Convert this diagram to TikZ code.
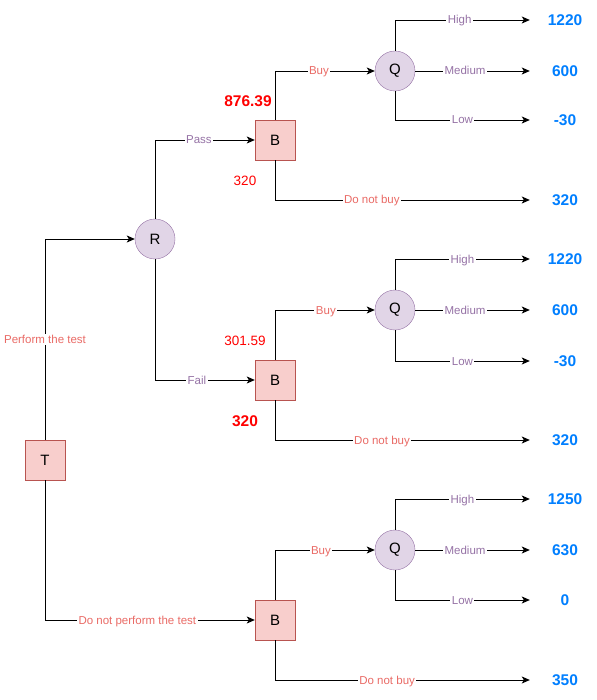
\documentclass[tikz,border=0pt]{standalone}
\usepackage{fontspec}
\setmainfont{Liberation Sans}
\usetikzlibrary{arrows.meta}
\definecolor{boxfill}{HTML}{F8CECC}
\definecolor{boxline}{HTML}{B85450}
\definecolor{circfill}{HTML}{E1D5E7}
\definecolor{circline}{HTML}{9673A6}
\definecolor{redlab}{HTML}{EA6B66}
\definecolor{purplab}{HTML}{9673A6}
\definecolor{bluev}{HTML}{007FFF}
\definecolor{redv}{HTML}{FF0000}
\tikzset{
  decbox/.style={draw=boxline, fill=boxfill, minimum size=40pt, inner sep=0pt, font=\fontsize{15}{17}\selectfont},
  chance/.style={circle, draw=circline, fill=circfill, minimum size=40pt, inner sep=0pt, font=\fontsize{15}{17}\selectfont},
  edge/.style={draw=black, line width=0.9pt, -{Stealth[length=8pt,width=7pt,inset=2pt]}},
  elab/.style={fill=white, inner xsep=1.5pt, inner ysep=1pt, anchor=base, yshift=-4pt, font=\fontsize{11.5}{13}\selectfont},
  rlab/.style={elab, text=redlab},
  plab/.style={elab, text=purplab},
  val/.style={minimum width=70pt, inner sep=0pt, align=center, text=bluev, font=\bfseries\fontsize{15.5}{17}\selectfont},
  evb/.style={text=redv, font=\bfseries\fontsize{15.5}{17}\selectfont},
  evn/.style={text=redv, font=\fontsize{13.5}{15}\selectfont},
}
\begin{document}
\begin{tikzpicture}[x=1pt,y=-1pt]
\useasboundingbox[fill=white] (0,0) rectangle (596,700);
% nodes
\node[decbox] (T) at (45,460) {T};
\node[chance] (R) at (155,239) {R};
\node[decbox] (B1) at (275,140) {B};
\node[decbox] (B2) at (275,380) {B};
\node[decbox] (B3) at (275,620) {B};
\node[chance] (Q1) at (395,71) {Q};
\node[chance] (Q2) at (395,310) {Q};
\node[chance] (Q3) at (395,550) {Q};
% values
\node[val] (V1) at (565,20) {1220};
\node[val] (V2) at (565,71) {600};
\node[val] (V3) at (565,120) {-30};
\node[val] (V4) at (565,200) {320};
\node[val] (V5) at (565,259) {1220};
\node[val] (V6) at (565,310) {600};
\node[val] (V7) at (565,361) {-30};
\node[val] (V8) at (565,440) {320};
\node[val] (V9) at (565,499) {1250};
\node[val] (V10) at (565,550) {630};
\node[val] (V11) at (565,600) {0};
\node[val] (V12) at (565,680) {350};
% expected values
\node[evb] (E1) at (248,101) {876.39};
\node[evn] (E2) at (245,181) {320};
\node[evn] (E3) at (245,341) {301.59};
\node[evb] (E4) at (245,421) {320};
% connectors
\draw[edge] (T.north) |- node[rlab, pos=0.25] {Perform the test} (R.west);
\draw[edge] (T.south) |- node[rlab, pos=0.72] {Do not perform the test} (B3.west);
\draw[edge] (R.north) |- node[plab, pos=0.72] {Pass} (B1.west);
\draw[edge] (R.south) |- node[plab, pos=0.71] {Fail} (B2.west);
% B1
\draw[edge] (B1.north) |- node[rlab, pos=0.72] {Buy} (Q1.west);
\draw[edge] (B1.south) |- node[rlab, pos=0.69] {Do not buy} (V4.west);
\draw[edge] (Q1.north) |- node[plab, pos=0.74] {High} (V1.west);
\draw[edge] (Q1.east) -- node[plab, pos=0.435] {Medium} (V2.west);
\draw[edge] (Q1.south) |- node[plab, pos=0.75] {Low} (V3.west);
% B2
\draw[edge] (B2.north) |- node[rlab, pos=0.755] {Buy} (Q2.west);
\draw[edge] (B2.south) |- node[rlab, pos=0.71] {Do not buy} (V8.west);
\draw[edge] (Q2.north) |- node[plab, pos=0.75] {High} (V5.west);
\draw[edge] (Q2.east) -- node[plab, pos=0.435] {Medium} (V6.west);
\draw[edge] (Q2.south) |- node[plab, pos=0.75] {Low} (V7.west);
% B3
\draw[edge] (B3.north) |- node[rlab, pos=0.73] {Buy} (Q3.west);
\draw[edge] (B3.south) |- node[rlab, pos=0.72] {Do not buy} (V12.west);
\draw[edge] (Q3.north) |- node[plab, pos=0.75] {High} (V9.west);
\draw[edge] (Q3.east) -- node[plab, pos=0.435] {Medium} (V10.west);
\draw[edge] (Q3.south) |- node[plab, pos=0.75] {Low} (V11.west);
\end{tikzpicture}
\end{document}
